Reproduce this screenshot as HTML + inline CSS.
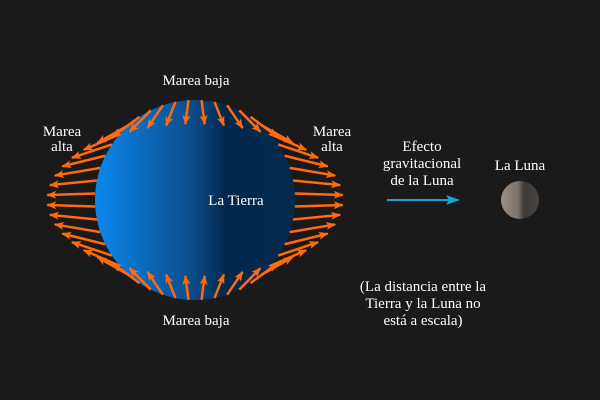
<!DOCTYPE html>
<html><head><meta charset="utf-8"><style>
html,body{margin:0;padding:0;background:#1a1a1a;}
svg{display:block}
text{font-family:"Liberation Serif",serif;font-size:15px;fill:#fff;text-anchor:middle}
</style></head><body>
<svg id="s" width="600" height="400" viewBox="0 0 600 400" xmlns="http://www.w3.org/2000/svg">
<defs>
<linearGradient id="eg" x1="0" y1="0" x2="1" y2="0">
<stop offset="0" stop-color="#0a88ee"/>
<stop offset="0.5" stop-color="#0b4a86"/>
<stop offset="0.65" stop-color="#02284b"/>
<stop offset="1" stop-color="#032a4e"/>
</linearGradient>
<linearGradient id="mg" x1="0" y1="0" x2="1" y2="0">
<stop offset="0" stop-color="#9a8f86"/>
<stop offset="0.45" stop-color="#7c726b"/>
<stop offset="0.6" stop-color="#3e3a37"/>
<stop offset="1" stop-color="#4a4541"/>
</linearGradient>
<marker id="ah" markerWidth="10" markerHeight="8" refX="9" refY="4" orient="auto" markerUnits="userSpaceOnUse" viewBox="0 0 10 8">
<path d="M0,0 L10,4 L0,8 L2.5,4z" fill="#ff6a10"/>
</marker>
<marker id="bh" markerWidth="14" markerHeight="10" refX="12" refY="5" orient="auto" markerUnits="userSpaceOnUse">
<path d="M0,0 L14,5 L0,10 L3,5z" fill="#1aa0d8"/>
</marker>
</defs>
<rect width="600" height="400" fill="#1a1a1a"/>
<circle cx="195" cy="200" r="100" fill="url(#eg)"/>
<g id="arr" stroke="#ff6a10" stroke-width="2.5" fill="none"></g>
<circle cx="520" cy="200" r="19" fill="url(#mg)"/>
<line x1="387" y1="200" x2="458" y2="200" stroke="#1aa0d8" stroke-width="2" marker-end="url(#bh)"/>
<text x="196" y="85">Marea baja</text>
<text x="196" y="325">Marea baja</text>
<text x="62" y="136">Marea</text><text x="62" y="151">alta</text>
<text x="332" y="136">Marea</text><text x="332" y="151">alta</text>
<text x="236" y="205">La Tierra</text>
<text x="422" y="151">Efecto</text>
<text x="422" y="168">gravitacional</text>
<text x="422" y="185">de la Luna</text>
<text x="520" y="170">La Luna</text>
<text x="423" y="291">(La distancia entre la</text>
<text x="423" y="308">Tierra y la Luna no</text>
<text x="423" y="325">está a escala)</text>
</svg>
<script>
var g=document.getElementById('arr'),k=24,n=48;
for(var i=0;i<n;i++){var t=(i+0.5)*2*Math.PI/n,c=Math.cos(t),s=Math.sin(t);
var x=195+100*c,y=200-100*s,dx=2*k*c,dy=k*s;
var l=document.createElementNS('http://www.w3.org/2000/svg','line');
l.setAttribute('x1',x);l.setAttribute('y1',y);l.setAttribute('x2',x+dx);l.setAttribute('y2',y+dy);
l.setAttribute('marker-end','url(#ah)');g.appendChild(l);}
</script>
</body></html>
